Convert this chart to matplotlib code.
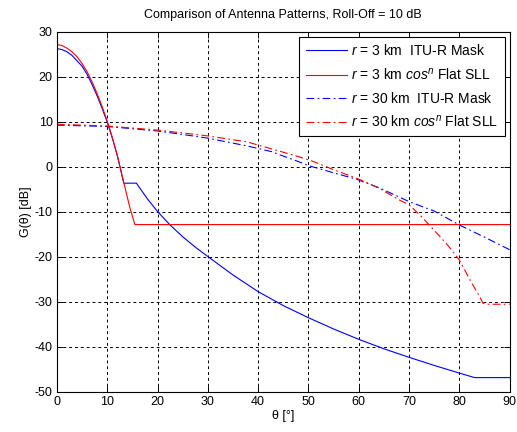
import numpy as np
import matplotlib
matplotlib.use("Agg")
import matplotlib.pyplot as plt

# -*- Data -*-
# r = 3 km, ITU-R mask (blue solid).
theta_itu3 = [0, 1, 2, 3, 4, 5, 6, 7, 8, 9, 10, 11, 12, 13.3, 15.8, 17, 18,
              20, 22.5, 25, 27.5, 30, 35, 40, 45, 50, 55, 60, 65, 70, 75, 80,
              83, 90]
gain_itu3 = [26.3, 26.1, 25.6, 24.8, 23.6, 22.4, 20.6, 18.3, 15.8, 13.0,
             10.0, 6.5, 2.6, -3.6, -3.6, -5.5, -7.1, -9.9, -12.9, -15.5,
             -17.8, -19.9, -24.0, -27.7, -30.8, -33.5, -36.0, -38.3, -40.4,
             -42.3, -44.1, -45.8, -46.8, -46.8]

# r = 3 km, cos^n flat SLL (red solid).
theta_cos3 = [0, 1, 2, 3, 4, 5, 6, 7, 8, 9, 10, 11, 12, 13.3, 14.5, 15.5, 90]
gain_cos3 = [27.2, 27.0, 26.4, 25.6, 24.5, 23.0, 21.2, 18.9, 16.3, 13.4,
             10.2, 6.6, 2.6, -3.5, -9.0, -12.8, -12.8]

# r = 30 km, ITU-R mask (blue dash-dot).
theta_itu30 = [0, 10, 20, 27, 30, 37.7, 42.7, 44.3, 48, 50, 55, 59.5, 64.2,
               70, 75, 80, 85, 90]
gain_itu30 = [9.3, 9.0, 8.0, 6.9, 6.4, 4.7, 3.4, 2.7, 1.2, 0.3, -1.3, -2.7,
              -4.7, -7.7, -9.8, -12.9, -15.6, -18.4]

# r = 30 km, cos^n flat SLL (red dash-dot).
theta_cos30 = [0, 10, 20, 27, 30, 37.7, 44, 48, 51, 55, 60, 64, 68, 70, 72.8,
               74, 77.4, 80, 82.1, 84, 84.7, 85.5, 90]
gain_cos30 = [9.5, 9.1, 8.2, 7.3, 6.9, 5.6, 3.6, 2.3, 1.2, -0.6, -2.7, -4.7,
              -7.3, -8.4, -11.4, -12.9, -17.0, -20.7, -25.1, -28.8, -30.3,
              -30.5, -30.5]

labels = [r"$r$ = 3 km  ITU-R Mask",
          r"$r$ = 3 km $cos^n$ Flat SLL",
          r"$r$ = 30 km  ITU-R Mask",
          r"$r$ = 30 km $cos^n$ Flat SLL"]

x_ticks = np.arange(0, 91, 10)
y_ticks = np.arange(-50, 31, 10)

# -*- Style -*-
plt.rcParams["font.family"] = ["Liberation Sans", "DejaVu Sans"]
plt.rcParams["font.size"] = 9
plt.rcParams["axes.unicode_minus"] = False
plt.rcParams["mathtext.fontset"] = "custom"
plt.rcParams["mathtext.rm"] = "Liberation Sans"
plt.rcParams["mathtext.it"] = "Liberation Sans:italic"

dashdot = (0, (7, 3, 1.5, 3))

fig = plt.figure(figsize=(5.17, 4.32), dpi=100)
ax = fig.add_axes([0.110, 0.0926, 0.876, 0.8334])

ax.plot(theta_itu3, gain_itu3, color="blue", lw=0.8, label=labels[0])
ax.plot(theta_cos3, gain_cos3, color="red", lw=0.8, label=labels[1])
ax.plot(theta_itu30, gain_itu30, color="blue", lw=0.8, ls=dashdot,
        label=labels[2])
ax.plot(theta_cos30, gain_cos30, color="red", lw=0.8, ls=dashdot,
        label=labels[3])

ax.set_xlim(0, 90)
ax.set_ylim(-50, 30)
ax.set_xticks(x_ticks)
ax.set_yticks(y_ticks)
ax.grid(True, color="black", ls=(0, (3, 3)), lw=0.7)
ax.tick_params(direction="in", top=True, right=True, length=4, width=0.7,
               pad=3)
for s in ax.spines.values():
    s.set_linewidth(0.8)

ax.set_title("Comparison of Antenna Patterns, Roll-Off = 10 dB",
             fontsize=9, pad=10)
ax.set_xlabel("θ [°]", labelpad=1)
ax.set_ylabel("G(θ) [dB]", labelpad=2)

leg = ax.legend(loc="upper right", fontsize=10, fancybox=False,
                edgecolor="black", framealpha=1, handlelength=3.0,
                handletextpad=0.3, borderaxespad=0.35, labelspacing=0.6,
                borderpad=0.45)
leg.get_frame().set_linewidth(0.8)

fig.savefig("out.png", dpi=100)
